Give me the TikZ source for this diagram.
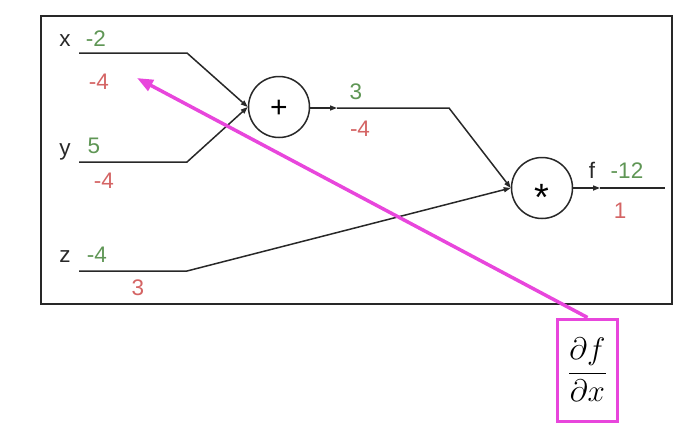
\documentclass[tikz,border=0pt]{standalone}
\usepackage{fontspec}
\usepackage{graphicx}
\setmainfont{Liberation Sans}
\usetikzlibrary{arrows.meta}
\definecolor{gval}{RGB}{95,150,85}
\definecolor{rval}{RGB}{212,100,100}
\definecolor{mag}{RGB}{232,70,220}
\definecolor{ink}{RGB}{40,40,40}
\begin{document}
\begin{tikzpicture}[x=1pt,y=-1pt,
  wire/.style={line width=1.5pt, draw=ink},
  tipped/.style={-{Triangle[length=7pt,width=5pt]}},
  opnode/.style={circle, draw=ink, line width=1.5pt, minimum size=61pt, inner sep=0pt, font=\fontsize{30}{32}\selectfont},
  lbl/.style={anchor=base, inner sep=0pt, font=\fontsize{22.5}{25}\selectfont},
  var/.style={lbl, text=ink},
  fwd/.style={lbl, text=gval},
  bwd/.style={lbl, text=rval}]
\useasboundingbox (0,0) rectangle (690,440);
\draw[line width=2pt, draw=ink] (41,16) rectangle (672,304);

% operation nodes
\node[opnode] (plus) at (279,107) {\smash{\raisebox{-0.35em}{+}}};
\node[opnode] (star) at (542,188) {\fontsize{38}{40}\selectfont\smash{\raisebox{-0.58em}{*}}};

% corner coordinates
\coordinate (xs) at (79,53);
\coordinate (xc) at (187,53);
\coordinate (ys) at (79,162);
\coordinate (yc) at (187,162);
\coordinate (zs) at (79,271);
\coordinate (zc) at (187,271);
\coordinate (pa) at (337,108);
\coordinate (pc) at (449,108);
\coordinate (fa) at (600,188);
\coordinate (fe) at (665,188);

% wires
\draw[wire, tipped] (xs) -- (xc) -- (plus.west);
\draw[wire, tipped] (ys) -- (yc) -- (plus.west);
\draw[wire, tipped] (plus.east |- pa) -- (pa);
\draw[wire, tipped] (pa) -- (pc) -- (star.west);
\draw[wire, tipped] (zs) -- (zc) -- (star.west);
\draw[wire, tipped] (star.east) -- (fa);
\draw[wire] (fa) -- (fe);

% labels
\node[var] (lx) at (65,46) {x};
\node[fwd] (vx) at (96,46) {-2};
\node[bwd] (gx) at (99,89) {-4};
\node[var] (ly) at (65,155) {y};
\node[fwd] (vy) at (94,153) {5};
\node[bwd] (gy) at (104,188) {-4};
\node[var] (lz) at (65,262) {z};
\node[fwd] (vz) at (97,262) {-4};
\node[bwd] (gz) at (138,295) {3};
\node[fwd] (vp) at (356,99) {3};
\node[bwd] (gp) at (360,136) {-4};
\node[var] (lf) at (592,178) {f};
\node[fwd] (vf) at (627,178) {-12};
\node[bwd] (gf) at (620,218) {1};

% derivative box and arrow
\node[draw=mag, line width=3pt, minimum width=60pt, minimum height=102pt, inner sep=0pt] (dbox) at (587.5,370) {\scalebox{1.25}{\fontsize{24}{28}\selectfont$\displaystyle\frac{\partial f}{\partial x}$}};
\coordinate (gxt) at (137,78);
\draw[draw=mag, line width=3.5pt, -{Triangle[length=16pt,width=12pt]}] (dbox.north) -- (gxt);
\end{tikzpicture}
\end{document}
